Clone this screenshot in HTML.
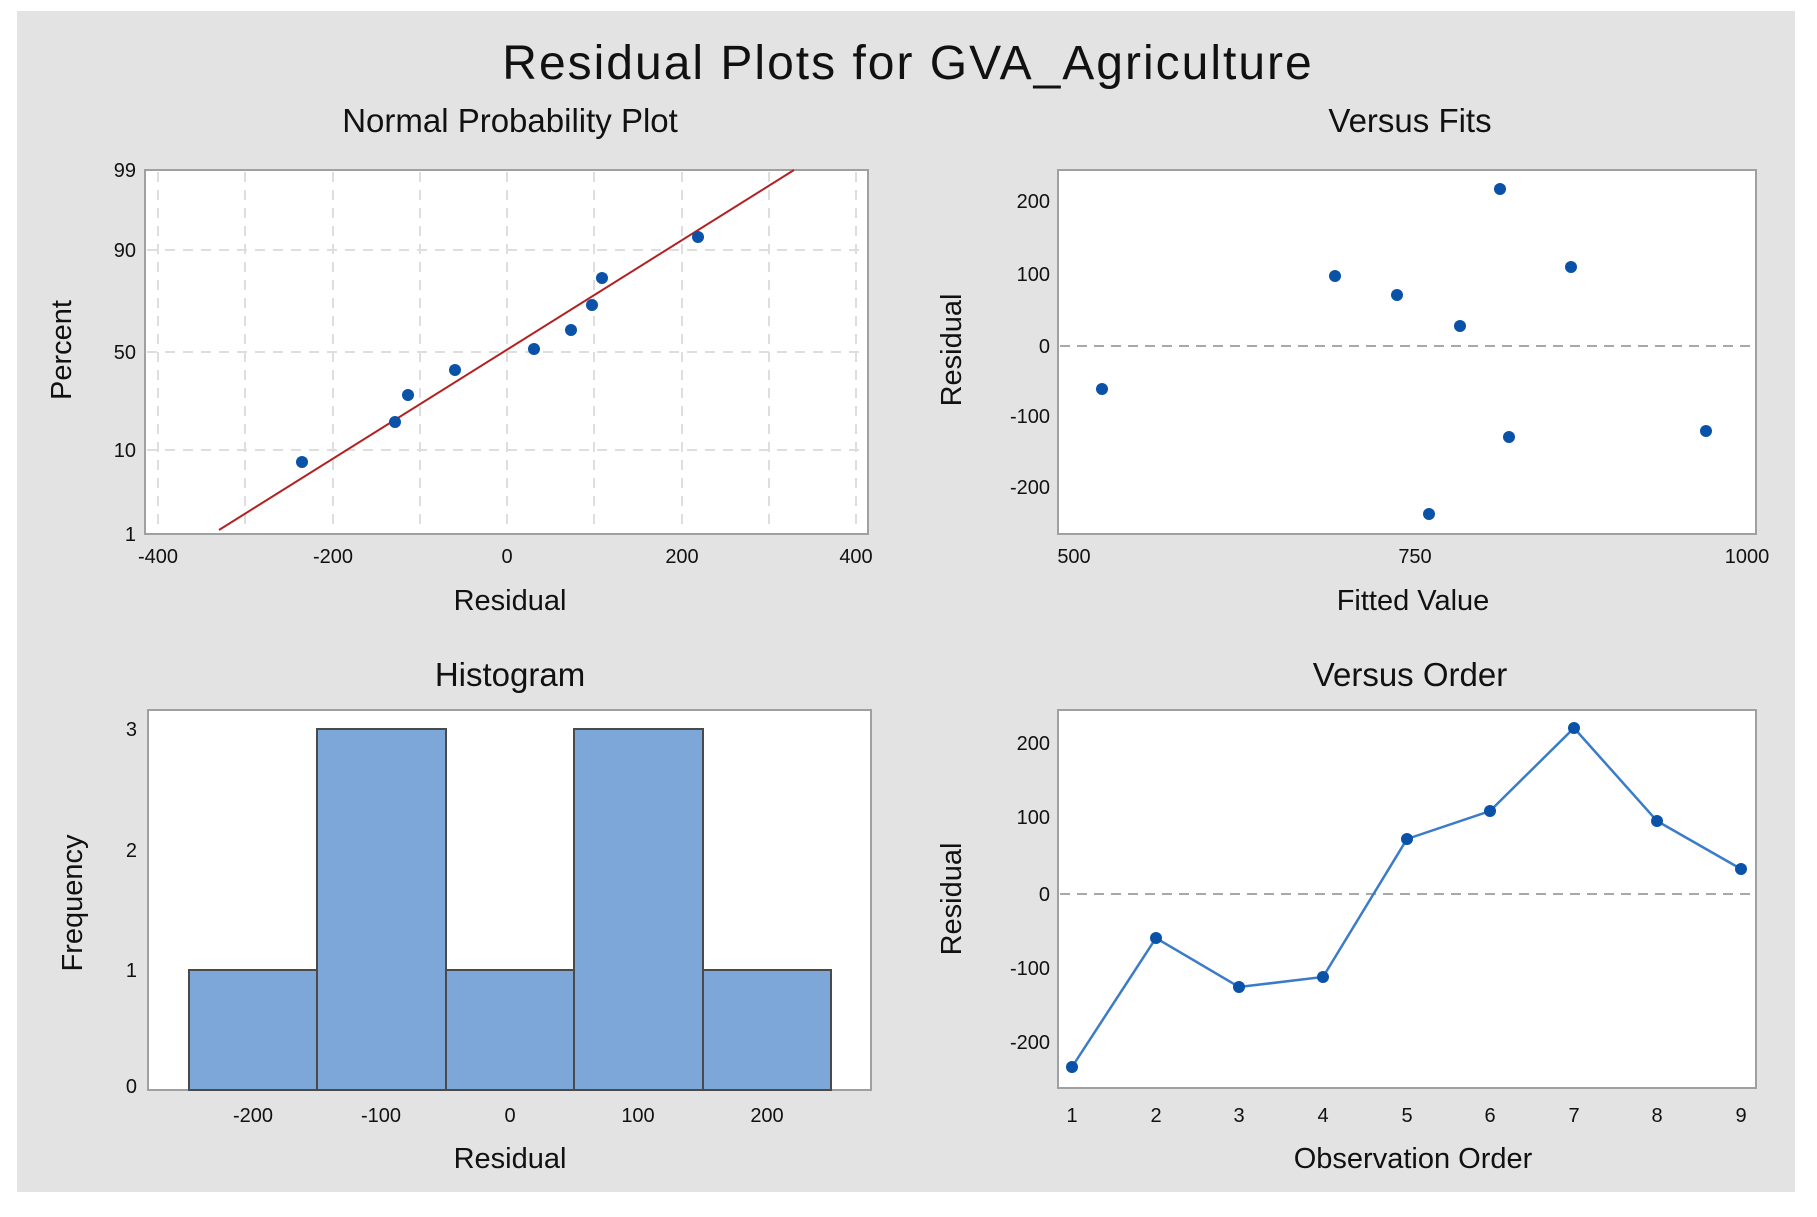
<!DOCTYPE html>
<html><head><meta charset="utf-8"><style>
html,body{margin:0;padding:0;background:#fff;}
svg{display:block;}
text{font-family:"Liberation Sans",sans-serif;fill:#111;}
.t{font-size:20px;}
.ax{font-size:29px;}
.st{font-size:33px;}
</style></head><body>
<svg width="1817" height="1217" viewBox="0 0 1817 1217">
<rect x="17" y="11" width="1778" height="1181" fill="#e3e3e3"/>
<text x="908" y="79" text-anchor="middle" style="font-size:48px;letter-spacing:2px">Residual Plots for GVA_Agriculture</text>
<text x="510" y="132" text-anchor="middle" class="st">Normal Probability Plot</text>
<text x="1410" y="132" text-anchor="middle" class="st">Versus Fits</text>
<text x="510" y="686" text-anchor="middle" class="st">Histogram</text>
<text x="1410" y="686" text-anchor="middle" class="st">Versus Order</text>

<!-- NPP -->
<rect x="145" y="170" width="723" height="364" fill="#fff" stroke="#a0a0a0" stroke-width="2"/>
<g stroke="#dedede" stroke-width="2" stroke-dasharray="10,8">
<line x1="158" y1="172" x2="158" y2="532"/><line x1="245" y1="172" x2="245" y2="532"/>
<line x1="333" y1="172" x2="333" y2="532"/><line x1="420" y1="172" x2="420" y2="532"/>
<line x1="507" y1="172" x2="507" y2="532"/><line x1="594" y1="172" x2="594" y2="532"/>
<line x1="682" y1="172" x2="682" y2="532"/><line x1="769" y1="172" x2="769" y2="532"/>
<line x1="856" y1="172" x2="856" y2="532"/>
<line x1="147" y1="250" x2="866" y2="250"/><line x1="147" y1="352" x2="866" y2="352"/>
<line x1="147" y1="450" x2="866" y2="450"/>
</g>
<line x1="219" y1="530" x2="794" y2="170" stroke="#b22222" stroke-width="2"/>
<g fill="#0a52a8">
<circle cx="302" cy="462" r="6"/><circle cx="395" cy="422" r="6"/><circle cx="408" cy="395" r="6"/>
<circle cx="455" cy="370" r="6"/><circle cx="534" cy="349" r="6"/><circle cx="571" cy="330" r="6"/>
<circle cx="592" cy="305" r="6"/><circle cx="602" cy="278" r="6"/><circle cx="698" cy="237" r="6"/>
</g>
<g class="t" text-anchor="end">
<text x="136" y="177">99</text><text x="136" y="257">90</text><text x="136" y="359">50</text>
<text x="136" y="457">10</text><text x="136" y="541">1</text></g>
<g class="t" text-anchor="middle">
<text x="158" y="563">-400</text><text x="333" y="563">-200</text><text x="507" y="563">0</text>
<text x="682" y="563">200</text><text x="856" y="563">400</text></g>
<text x="510" y="610" text-anchor="middle" class="ax">Residual</text>
<text transform="translate(71,350) rotate(-90)" text-anchor="middle" class="ax">Percent</text>

<!-- Versus Fits -->
<rect x="1058" y="170" width="698" height="364" fill="#fff" stroke="#a0a0a0" stroke-width="2"/>
<line x1="1060" y1="346" x2="1754" y2="346" stroke="#a8a8a8" stroke-width="2" stroke-dasharray="10,7"/>
<g fill="#0a52a8">
<circle cx="1102" cy="389" r="6"/><circle cx="1335" cy="276" r="6"/><circle cx="1397" cy="295" r="6"/>
<circle cx="1460" cy="326" r="6"/><circle cx="1500" cy="189" r="6"/><circle cx="1509" cy="437" r="6"/>
<circle cx="1571" cy="267" r="6"/><circle cx="1706" cy="431" r="6"/><circle cx="1429" cy="514" r="6"/>
</g>
<g class="t" text-anchor="end">
<text x="1050" y="208">200</text><text x="1050" y="281">100</text><text x="1050" y="353">0</text>
<text x="1050" y="423">-100</text><text x="1050" y="494">-200</text></g>
<g class="t" text-anchor="middle">
<text x="1074" y="563">500</text><text x="1415" y="563">750</text><text x="1747" y="563">1000</text></g>
<text x="1413" y="610" text-anchor="middle" class="ax">Fitted Value</text>
<text transform="translate(961,350) rotate(-90)" text-anchor="middle" class="ax">Residual</text>

<!-- Histogram -->
<rect x="148" y="710" width="723" height="380" fill="#fff" stroke="#a0a0a0" stroke-width="2"/>
<g fill="#7da7d9" stroke="#4a4a4a" stroke-width="2">
<rect x="189" y="970" width="128" height="120"/>
<rect x="317" y="729" width="129" height="361"/>
<rect x="446" y="970" width="128" height="120"/>
<rect x="574" y="729" width="129" height="361"/>
<rect x="703" y="970" width="128" height="120"/>
</g>
<g class="t" text-anchor="end">
<text x="137" y="736">3</text><text x="137" y="857">2</text><text x="137" y="977">1</text><text x="137" y="1093">0</text></g>
<g class="t" text-anchor="middle">
<text x="253" y="1122">-200</text><text x="381" y="1122">-100</text><text x="510" y="1122">0</text>
<text x="638" y="1122">100</text><text x="767" y="1122">200</text></g>
<text x="510" y="1168" text-anchor="middle" class="ax">Residual</text>
<text transform="translate(82,903) rotate(-90)" text-anchor="middle" class="ax">Frequency</text>

<!-- Versus Order -->
<rect x="1058" y="710" width="698" height="378" fill="#fff" stroke="#a0a0a0" stroke-width="2"/>
<line x1="1060" y1="894" x2="1754" y2="894" stroke="#a8a8a8" stroke-width="2" stroke-dasharray="10,7"/>
<polyline fill="none" stroke="#3a7cc8" stroke-width="2.5" points="1072,1067 1156,938 1239,987 1323,977 1407,839 1490,811 1574,728 1657,821 1741,869"/>
<g fill="#0a52a8">
<circle cx="1072" cy="1067" r="6"/><circle cx="1156" cy="938" r="6"/><circle cx="1239" cy="987" r="6"/>
<circle cx="1323" cy="977" r="6"/><circle cx="1407" cy="839" r="6"/><circle cx="1490" cy="811" r="6"/>
<circle cx="1574" cy="728" r="6"/><circle cx="1657" cy="821" r="6"/><circle cx="1741" cy="869" r="6"/>
</g>
<g class="t" text-anchor="end">
<text x="1050" y="750">200</text><text x="1050" y="824">100</text><text x="1050" y="901">0</text>
<text x="1050" y="975">-100</text><text x="1050" y="1049">-200</text></g>
<g class="t" text-anchor="middle">
<text x="1072" y="1122">1</text><text x="1156" y="1122">2</text><text x="1239" y="1122">3</text>
<text x="1323" y="1122">4</text><text x="1407" y="1122">5</text><text x="1490" y="1122">6</text>
<text x="1574" y="1122">7</text><text x="1657" y="1122">8</text><text x="1741" y="1122">9</text></g>
<text x="1413" y="1168" text-anchor="middle" class="ax">Observation Order</text>
<text transform="translate(961,899) rotate(-90)" text-anchor="middle" class="ax">Residual</text>
</svg>
</body></html>
